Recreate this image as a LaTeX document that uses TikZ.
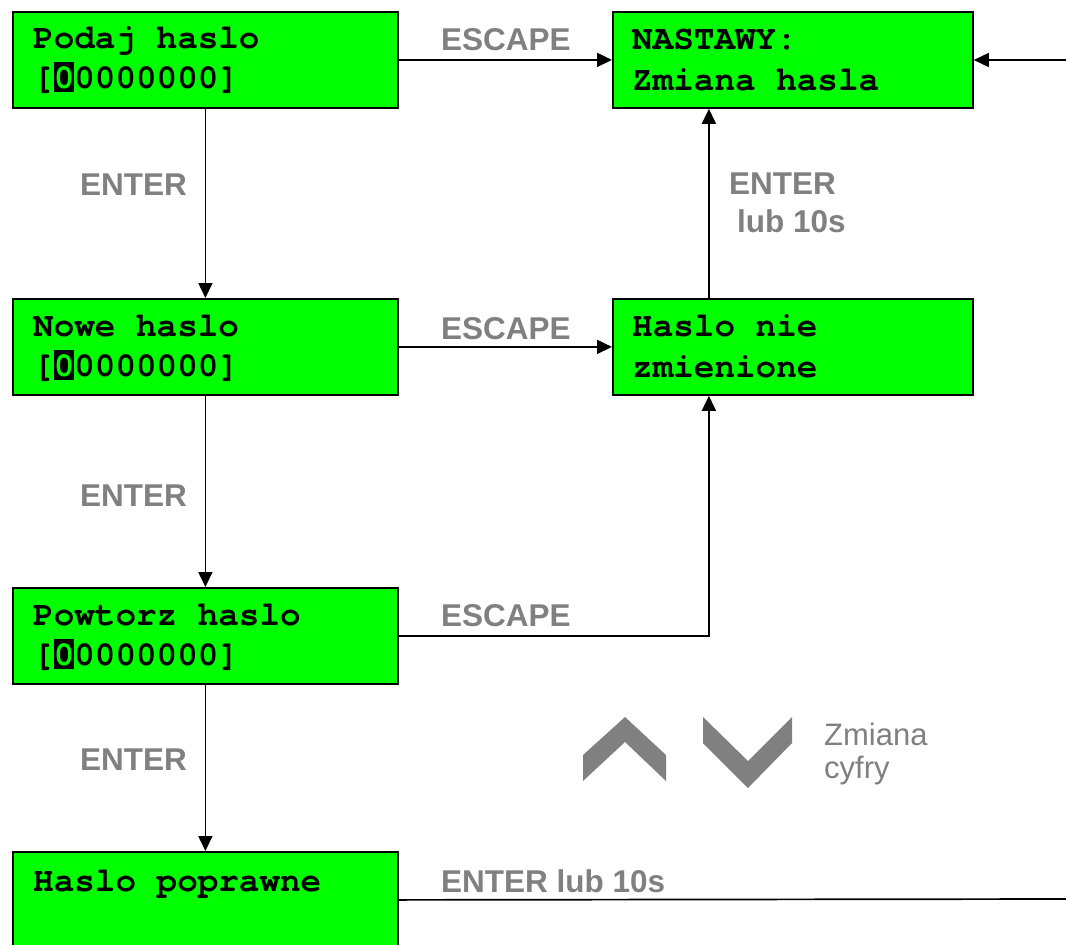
\documentclass[tikz,border=0pt]{standalone}
\usepackage{fontspec}
\setmainfont{Liberation Sans}
\newfontfamily\lcdfont{texgyrecursor-bold}[Extension=.otf]
\usetikzlibrary{arrows.meta}
\definecolor{lcdgreen}{RGB}{0,255,0}
\definecolor{labgray}{RGB}{128,128,128}
\newcommand{\hz}{{\setlength{\fboxsep}{0pt}\colorbox{black}{\rule[-4pt]{0pt}{30pt}\textcolor{lcdgreen}{0}}}}
\tikzset{
  lcdbox/.style={draw=black, line width=1.8pt, fill=lcdgreen, minimum width=385pt, minimum height=96pt, anchor=north west, inner sep=0pt},
  lcdtext/.style={anchor=base west, inner sep=0pt, font=\lcdfont\fontsize{34.3}{34.3}\selectfont},
  lab/.style={anchor=base west, inner sep=0pt, text=labgray, font=\fontsize{31.5}{31.5}\selectfont\bfseries},
  labreg/.style={anchor=base west, inner sep=0pt, text=labgray, font=\fontsize{31}{31}\selectfont},
  conn/.style={draw=black, line width=1.7pt},
  arr/.style={conn, -{Triangle[length=15pt,width=14pt]}},
  chev/.style={fill=labgray}
}
\begin{document}
\begin{tikzpicture}[x=1pt,y=-1pt]
\useasboundingbox (0,0) rectangle (1066,945);
\clip (0,0) rectangle (1066,945);
\fill[white] (0,0) rectangle (1066,945);
% boxes
\node[lcdbox] (b1) at (12,11) {};
\node[lcdbox, minimum width=360pt] (n1) at (612,11) {};
\node[lcdbox] (b2) at (12,298) {};
\node[lcdbox, minimum width=360pt] (hn) at (612,298) {};
\node[lcdbox] (b3) at (12,587) {};
\node[lcdbox] (b4) at (12,851) {};
% box texts
\node[lcdtext] (t1a) at (33,48) {Podaj haslo};
\node[lcdtext] (t1b) at (33,88) {[\hz0000000]};
\node[lcdtext] (t2a) at (632,49) {NASTAWY:};
\node[lcdtext] (t2b) at (632,90) {Zmiana hasla};
\node[lcdtext] (t3a) at (33,336) {Nowe haslo};
\node[lcdtext] (t3b) at (33,376) {[\hz0000000]};
\node[lcdtext] (t4a) at (632,336) {Haslo nie};
\node[lcdtext] (t4b) at (632,377) {zmienione};
\node[lcdtext] (t5a) at (33,625) {Powtorz haslo};
\node[lcdtext] (t5b) at (33,665) {[\hz0000000]};
\node[lcdtext] (t6a) at (33,891) {Haslo poprawne};
% connectors
\coordinate (r1) at (1066,60);
\coordinate (r2) at (1066,899);
\draw[arr] (b1.east) -- (n1.west);
\draw[arr] (b2.east) -- (hn.west);
\draw[arr] (b1.south) -- (b2.north);
\draw[arr] (b2.south) -- (b3.north);
\draw[arr] (b3.south) -- (b4.north);
\draw[arr] ([xshift=-84pt]hn.north) -- ([xshift=-84pt]n1.south);
\draw[arr] (b3.east) -| ([xshift=-84pt]hn.south);
\draw[arr] (r1) -- (n1.east |- r1);
\draw[conn] (b4.east) -- (r2);
% labels
\node[lab] (l1) at (441,50) {ESCAPE};
\node[lab] (l2) at (441,339) {ESCAPE};
\node[lab] (l3) at (441,626) {ESCAPE};
\node[lab] (l4) at (80,195) {ENTER};
\node[lab] (l5) at (80,506) {ENTER};
\node[lab] (l6) at (80,770) {ENTER};
\node[lab] (l7) at (729,194) {ENTER};
\node[lab] (l8) at (737,232) {lub 10s};
\node[lab] (l9) at (441,892) {ENTER lub 10s};
\node[labreg] (z1) at (824,745) {Zmiana};
\node[labreg] (z2) at (824,778) {cyfry};
% chevrons
\fill[chev] (583,755) -- (625,717) -- (666,755) -- (666,781) -- (625,742) -- (583,781) -- cycle;
\fill[chev] (703,717) -- (748,761) -- (792,717) -- (792,743) -- (748,788) -- (703,743) -- cycle;
\end{tikzpicture}
\end{document}
